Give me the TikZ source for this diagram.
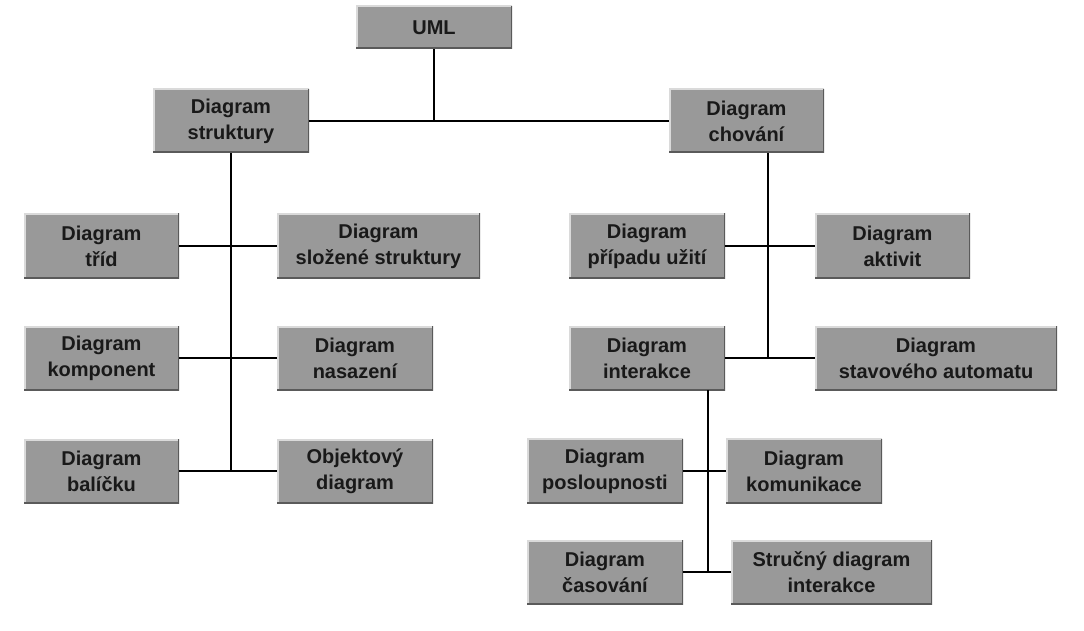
\documentclass[tikz,border=0pt]{standalone}
\usepackage{fontspec}
\setmainfont{Liberation Sans}
\definecolor{boxgray}{HTML}{999999}
\definecolor{boxlight}{HTML}{DADADA}
\definecolor{boxdark}{HTML}{5A5A5A}
\tikzset{
  box/.style={fill=boxgray, inner sep=0pt, align=center,
    font=\bfseries\fontsize{20}{26}\selectfont, text=black!90,
    path picture={
      \draw[line width=3pt, boxlight] (path picture bounding box.south west) -- (path picture bounding box.north west) -- (path picture bounding box.north east);
      \draw[line width=3pt, boxdark] (path picture bounding box.north east) -- (path picture bounding box.south east) -- (path picture bounding box.south west);
    }},
  conn/.style={line width=2pt, black}
}
\begin{document}
\begin{tikzpicture}[x=1pt, y=-1pt]
\useasboundingbox[fill=white] (0,0) rectangle (1084,631);
% nodes
\node[box, minimum width=156pt, minimum height=43pt] (uml) at (434,27.5) {UML};
\node[box, minimum width=156pt, minimum height=64pt] (str) at (231,121) {Diagram\\struktury};
\node[box, minimum width=155pt, minimum height=64pt] (cho) at (746.5,121) {Diagram\\chování};
\node[box, minimum width=155pt, minimum height=65pt] (trid) at (101.5,246) {Diagram\\tříd};
\node[box, minimum width=203pt, minimum height=65pt] (slo) at (378.5,246) {Diagram\\složené struktury};
\node[box, minimum width=155pt, minimum height=64pt] (komp) at (101.5,358) {Diagram\\komponent};
\node[box, minimum width=156pt, minimum height=64pt] (nas) at (355,358) {Diagram\\nasazení};
\node[box, minimum width=155pt, minimum height=64pt] (bal) at (101.5,471) {Diagram\\balíčku};
\node[box, minimum width=156pt, minimum height=64pt] (obj) at (355,471) {Objektový\\diagram};
\node[box, minimum width=156pt, minimum height=65pt] (pripad) at (647,246) {Diagram\\případu užití};
\node[box, minimum width=155pt, minimum height=65pt] (akt) at (892.5,246) {Diagram\\aktivit};
\node[box, minimum width=156pt, minimum height=64pt] (inter) at (647,358) {Diagram\\interakce};
\node[box, minimum width=242pt, minimum height=64pt] (stav) at (936,358) {Diagram\\stavového automatu};
\node[box, minimum width=156pt, minimum height=65pt] (posl) at (605,471) {Diagram\\posloupnosti};
\node[box, minimum width=156pt, minimum height=65pt] (komu) at (804,471) {Diagram\\komunikace};
\node[box, minimum width=156pt, minimum height=64pt] (cas) at (605,572) {Diagram\\časování};
\node[box, minimum width=201pt, minimum height=64pt] (struc) at (831.5,572) {Stručný diagram\\interakce};
% connectors
\draw[conn] (uml.south) -- (uml.south |- str.east);
\draw[conn] (str.east) -- (cho.west);
\draw[conn] (str.south) -- (str.south |- bal.east);
\draw[conn] (trid.east) -- (slo.west);
\draw[conn] (komp.east) -- (nas.west);
\draw[conn] (bal.east) -- (obj.west);
\coordinate (rtop) at ([xshift=21.5pt]cho.south);
\draw[conn] (rtop) -- (rtop |- inter.east);
\draw[conn] (pripad.east) -- (akt.west);
\draw[conn] (inter.east) -- (stav.west);
\coordinate (itop) at ([xshift=61pt]inter.south);
\draw[conn] (itop) -- (itop |- cas.east);
\draw[conn] (posl.east) -- (komu.west);
\draw[conn] (cas.east) -- (struc.west);
\end{tikzpicture}
\end{document}
